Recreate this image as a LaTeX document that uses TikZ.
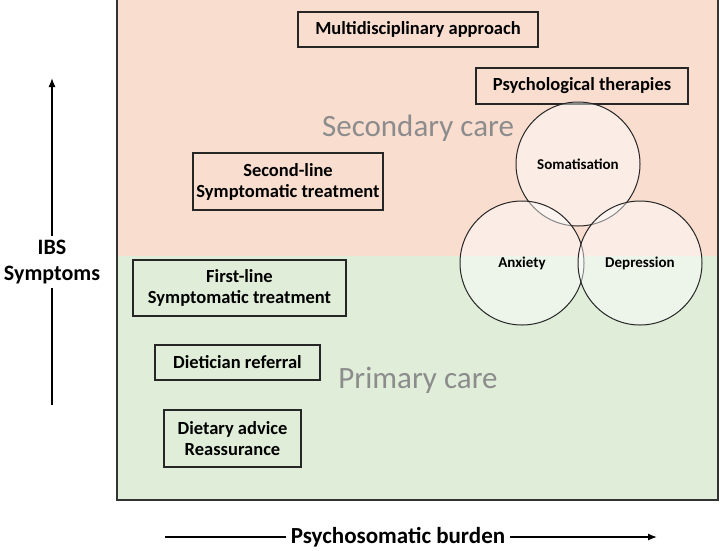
\documentclass[tikz,border=0pt]{standalone}
\usepackage{fontspec}
\setmainfont{Carlito}
\usetikzlibrary{arrows.meta}
\begin{document}
\begin{tikzpicture}[x=1pt,y=-1pt,
  box/.style={draw=black!85,line width=1.2pt,fill=none,font=\bfseries\fontsize{18.5}{21}\selectfont,align=center,inner sep=0pt},
  care/.style={text=black!45,font=\fontsize{31}{33}\selectfont},
  venn/.style={draw=black!85,line width=1pt,fill=white,fill opacity=0.45,circle,minimum size=124pt,inner sep=0pt},
  vl/.style={font=\bfseries\fontsize{15}{17}\selectfont},
  ax/.style={-{Latex[length=9pt,width=7pt]},line width=1.3pt}]
\useasboundingbox (0,0) rectangle (720,550);
\fill[white] (0,0) rectangle (720,550);
\fill[fill={rgb,255:red,249;green,222;blue,208}] (117,0) rectangle (718,256);
\fill[fill={rgb,255:red,224;green,238;blue,217}] (117,256) rectangle (718,500);
\draw[line width=1.2pt,black!80] (117,0) -- (117,500) -- (718,500) -- (718,0);
\node[care] (sec) at (418,128) {Secondary care};
\node[care] (pri) at (418,380) {Primary care};
\node[box,minimum width=240pt,minimum height=35pt] (m) at (418,29.5) {Multidisciplinary approach};
\node[box,minimum width=212pt,minimum height=36pt] (p) at (582,86) {Psychological therapies};
\node[box,minimum width=190pt,minimum height=57pt] (s) at (288,181.5) {Second-line\\Symptomatic treatment};
\node[box,minimum width=213pt,minimum height=56pt] (f) at (239.5,288) {First-line\\Symptomatic treatment};
\node[box,minimum width=165pt,minimum height=35pt] (d) at (237.5,362.5) {Dietician referral};
\node[box,minimum width=137pt,minimum height=57pt] (a) at (232.5,438.5) {Dietary advice\\Reassurance};
\node[venn] (c1) at (578,164) {};
\node[venn] (c2) at (522,263) {};
\node[venn] (c3) at (640,263) {};
\node[vl] at (578,164) {Somatisation};
\node[vl] at (522,263) {Anxiety};
\node[vl] at (640,263) {Depression};
\coordinate (yb) at (52,405); \coordinate (yt) at (52,78);
\draw[ax] (yb) -- (yt);
\node[fill=white,font=\bfseries\fontsize{22}{26}\selectfont,align=center,inner sep=4pt] (ibs) at (52,262) {IBS\\Symptoms};
\coordinate (xl) at (165,537); \coordinate (xr) at (657,537);
\draw[ax] (xl) -- (xr);
\node[fill=white,font=\bfseries\fontsize{23}{26}\selectfont,inner sep=5pt] (pb) at (398,537) {Psychosomatic burden};
\end{tikzpicture}
\end{document}
